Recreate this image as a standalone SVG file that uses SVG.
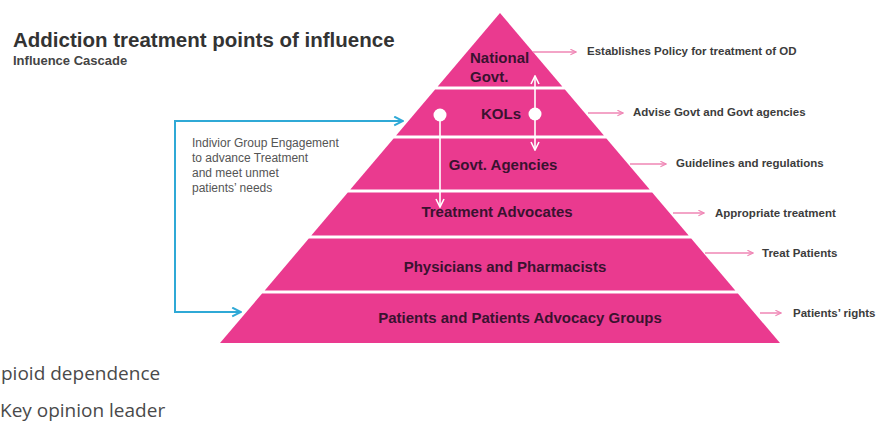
<svg xmlns="http://www.w3.org/2000/svg" width="877" height="423" viewBox="0 0 877 423">
<defs>
<style>
.band{fill:#ea3a8f}
.bl{font-family:"Liberation Sans",Arial,sans-serif;font-weight:bold;font-size:15px;fill:#3a1230;text-anchor:middle}
.ann{font-family:"Liberation Sans",Arial,sans-serif;font-weight:bold;font-size:11.5px;fill:#3c3c3c}
.pk{stroke:#ef86b5;stroke-width:1.5;fill:none;marker-end:url(#mp)}
.wh{stroke:#ffffff;stroke-width:1.6;fill:none}
.blue{stroke:#2fa9d6;stroke-width:2;fill:none}
.note{font-family:"Liberation Sans",Arial,sans-serif;font-size:12px;fill:#555}
.foot{font-family:"Open Sans","Noto Sans",sans-serif;font-size:19px;fill:#4a4a4a}
</style>
<marker id="mp" viewBox="0 0 10 10" refX="9" refY="5" markerWidth="7" markerHeight="7" markerUnits="userSpaceOnUse" orient="auto"><path d="M1,1 L9,5 L1,9" fill="none" stroke="#ef86b5" stroke-width="1.6"/></marker>
<marker id="mw" viewBox="0 0 10 10" refX="9" refY="5" markerWidth="10" markerHeight="10" markerUnits="userSpaceOnUse" orient="auto-start-reverse"><path d="M1,1 L9,5 L1,9" fill="none" stroke="#ffffff" stroke-width="1.6"/></marker>
<marker id="mb" viewBox="0 0 10 10" refX="9" refY="5" markerWidth="11" markerHeight="11" markerUnits="userSpaceOnUse" orient="auto-start-reverse"><path d="M1,1 L9,5 L1,9" fill="none" stroke="#2fa9d6" stroke-width="1.8"/></marker>
</defs>
<rect width="877" height="423" fill="#ffffff"/>

<g id="title">
<text x="13" y="47" font-family="Liberation Sans,Arial,sans-serif" font-weight="bold" font-size="20.5px" fill="#333">Addiction treatment points of influence</text>
<text x="13" y="65" font-family="Liberation Sans,Arial,sans-serif" font-weight="bold" font-size="13px" fill="#444">Influence Cascade</text>
</g>

<g id="band-national-govt">
<polygon class="band" points="500,13 562.3,86.5 437.7,86.5"/>
<text class="bl" x="470" y="63" style="text-anchor:start">National</text>
<text class="bl" x="470" y="82" style="text-anchor:start">Govt.</text>
</g>
<g id="band-kols">
<polygon class="band" points="435.1,89.5 564.9,89.5 603.9,135.5 396.1,135.5"/>
<text class="bl" x="501" y="119">KOLs</text>
</g>
<g id="band-govt-agencies">
<polygon class="band" points="393.6,138.5 606.4,138.5 649.7,189.5 350.3,189.5"/>
<text class="bl" x="503" y="170">Govt. Agencies</text>
</g>
<g id="band-treatment-advocates">
<polygon class="band" points="347.8,192.5 652.2,192.5 688.7,235.5 311.3,235.5"/>
<text class="bl" x="497" y="217">Treatment Advocates</text>
</g>
<g id="band-physicians">
<polygon class="band" points="308.8,238.5 691.2,238.5 735.3,290.5 264.7,290.5"/>
<text class="bl" x="505" y="272">Physicians and Pharmacists</text>
</g>
<g id="band-patients">
<polygon class="band" points="262.1,293.5 737.9,293.5 780,343 220,343"/>
<text class="bl" x="520" y="323">Patients and Patients Advocacy Groups</text>
</g>

<g id="ann-policy"><text class="ann" x="587" y="55">Establishes Policy for treatment of OD</text></g>
<g id="ann-advise"><text class="ann" x="633" y="116">Advise Govt and Govt agencies</text></g>
<g id="ann-guidelines"><text class="ann" x="676" y="167">Guidelines and regulations</text></g>
<g id="ann-appropriate"><text class="ann" x="715" y="217">Appropriate treatment</text></g>
<g id="ann-treat"><text class="ann" x="762" y="257">Treat Patients</text></g>
<g id="ann-rights"><text class="ann" x="793" y="317">Patients’ rights</text></g>

<g id="engagement-note">
<text class="note" x="192" y="147">Indivior Group Engagement</text>
<text class="note" x="192" y="162">to  advance Treatment</text>
<text class="note" x="192" y="177">and meet unmet</text>
<text class="note" x="192" y="192">patients’ needs</text>
</g>

<g id="connectors">
<path class="pk" d="M533,52 H576"/>
<path class="pk" d="M588,113 H623"/>
<path class="pk" d="M630,164 H666"/>
<path class="pk" d="M673,213 H704"/>
<path class="pk" d="M705,253 H753"/>
<path class="pk" d="M760,313 H781"/>
<path class="blue" d="M403,121 H175 V312 H241" marker-start="url(#mb)" marker-end="url(#mb)"/>
<path class="wh" d="M535,76 V150" marker-start="url(#mw)" marker-end="url(#mw)"/>
<circle cx="535" cy="114" r="6.5" fill="#ffffff"/>
<path class="wh" d="M440,115 V207" marker-end="url(#mw)"/>
<circle cx="440" cy="115" r="6.5" fill="#ffffff"/>
</g>

<g id="footnotes">
<text class="foot" x="1" y="380">pioid dependence</text>
<text class="foot" x="0" y="417">Key opinion leader</text>
</g>
</svg>
